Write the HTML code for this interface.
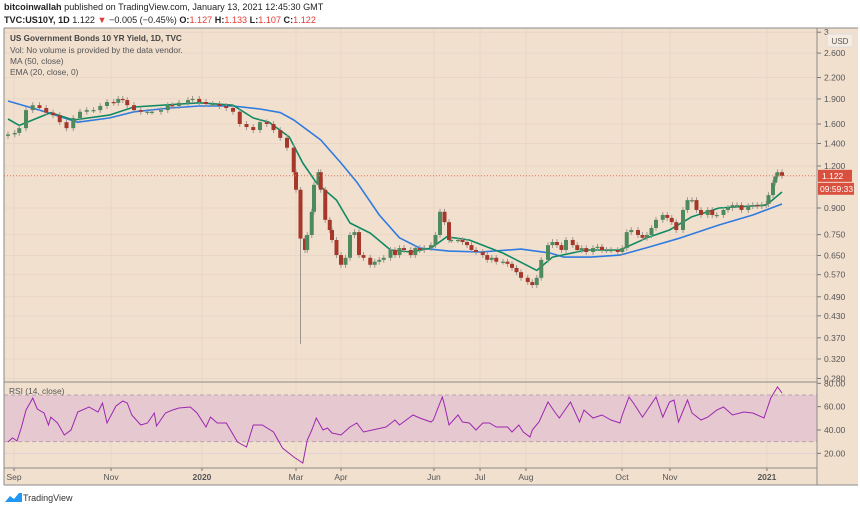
<!DOCTYPE html>
<html><head><meta charset="utf-8">
<style>
body{margin:0;width:860px;height:509px;background:#fff;overflow:hidden;font-family:"Liberation Sans",sans-serif}
svg{position:absolute;left:0;top:0}
</style></head>
<body>
<svg width="860" height="509" viewBox="0 0 860 509">
<rect x="0" y="0" width="860" height="509" fill="#fff"/>
<rect x="4" y="28" width="854" height="457" fill="#f2e0cf"/>
<g id="grid"></g>
<g id="rsiBand"></g>
<g id="lines"></g>
<g id="candles"></g>
<g id="rsi"></g>
<g id="axes"></g>
<text x="4" y="10" font-size="9.1" fill="#222"><tspan font-weight="bold">bitcoinwallah</tspan> published on TradingView.com, January 13, 2021 12:45:30 GMT</text>
<text x="4" y="23" font-size="9.1" fill="#222"><tspan font-weight="bold">TVC:US10Y, 1D</tspan> 1.122 <tspan fill="#e53935">▼</tspan> −0.005 (−0.45%) <tspan font-weight="bold">O:</tspan><tspan fill="#e53935">1.127</tspan> <tspan font-weight="bold">H:</tspan><tspan fill="#e53935">1.133</tspan> <tspan font-weight="bold">L:</tspan><tspan fill="#e53935">1.107</tspan> <tspan font-weight="bold">C:</tspan><tspan fill="#e53935">1.122</tspan></text>
<text x="10" y="41" font-size="8.2" font-weight="bold" fill="#444">US Government Bonds 10 YR Yield, 1D, TVC</text>
<text x="10" y="53" font-size="8.4" fill="#555">Vol: No volume is provided by the data vendor.</text>
<text x="10" y="64" font-size="8.4" fill="#555">MA (50, close)</text>
<text x="10" y="75" font-size="8.4" fill="#555">EMA (20, close, 0)</text>
<text x="9" y="394" font-size="8.4" fill="#555">RSI (14, close)</text>
<rect x="827" y="34" width="26" height="13" rx="2" fill="#f6ebe0" stroke="#ddd"/>
<text x="840" y="44" font-size="8" fill="#555" text-anchor="middle">USD</text>
<g>
<path d="M5 502 l5 -6 l4 3 l5 -6 l3 0 l0 9 z" fill="#2196f3"/>
<text x="23" y="501" font-size="9" fill="#333">TradingView</text>
</g>
</svg>
<script>
const closeDays=[0,3,5,8,11,14,17,20,23,26,29,32,35,38,41,44,47,49,51,53,56,59,62,64,68,71,73,76,80,82,85,88,91,94,97,100,103,106,109,112,115,118,121,124,127,128,130,132,133,135,136,138,139,141,143,144,146,148,150,152,154,156,158,161,163,165,167,170,172,174,176,179,181,183,185,188,190,192,194,196,197,200,202,204,206,208,211,213,215,217,220,222,224,226,228,231,233,235,237,240,242,244,246,248,251,253,255,257,260,262,264,266,268,271,273,275,277,280,282,284,286,288,291,293,295,297,300,302,304,306,308,311,313,315,318,320,322,324,326,329,331,333,335,337,338,340,341,342,344];
const closes=[1.49,1.505,1.555,1.76,1.82,1.785,1.73,1.70,1.62,1.555,1.667,1.74,1.76,1.76,1.81,1.86,1.85,1.90,1.885,1.82,1.76,1.74,1.74,1.74,1.76,1.82,1.81,1.85,1.885,1.90,1.86,1.835,1.835,1.81,1.785,1.74,1.60,1.567,1.535,1.62,1.60,1.535,1.455,1.36,1.15,1.02,0.73,0.675,0.748,0.877,1.055,1.15,1.02,0.83,0.774,0.723,0.652,0.61,0.64,0.748,0.763,0.652,0.64,0.61,0.623,0.631,0.64,0.675,0.652,0.684,0.675,0.652,0.684,0.675,0.684,0.698,0.748,0.877,0.817,0.723,0.723,0.723,0.713,0.698,0.675,0.666,0.652,0.631,0.64,0.623,0.623,0.614,0.597,0.58,0.558,0.542,0.531,0.558,0.631,0.698,0.713,0.698,0.675,0.723,0.698,0.675,0.684,0.666,0.684,0.69,0.675,0.675,0.675,0.666,0.684,0.763,0.774,0.748,0.734,0.748,0.785,0.83,0.858,0.841,0.817,0.774,0.888,0.95,0.95,0.888,0.858,0.888,0.858,0.858,0.888,0.90,0.918,0.918,0.888,0.912,0.918,0.912,0.918,0.925,0.983,1.07,1.117,1.15,1.122];
const spikeDays=[130];
const spikeLows=[0.355];
const maDays=[0,14,31,45,56,72,85,100,112,121,127,139,148,155,165,174,183,196,210,228,241,247,259,272,285,299,316,331,344];
const maValues=[1.873,1.76,1.62,1.667,1.74,1.785,1.81,1.81,1.773,1.73,1.644,1.434,1.225,1.075,0.858,0.734,0.684,0.670,0.666,0.679,0.661,0.643,0.643,0.652,0.689,0.734,0.801,0.858,0.925];
const emaDays=[0,5,19,29,45,56,85,100,109,116,125,131,137,146,152,161,170,179,188,195,205,220,235,242,257,272,284,294,304,316,337,344];
const emaValues=[1.656,1.585,1.73,1.644,1.70,1.798,1.85,1.82,1.667,1.62,1.464,1.225,1.07,0.95,0.812,0.758,0.675,0.666,0.684,0.739,0.723,0.661,0.587,0.643,0.675,0.675,0.734,0.774,0.848,0.90,0.918,1.004];
const rsiDays=[0,2,4,6,8,11,13,16,18,19,22,25,28,31,36,40,42,44,48,51,53,55,59,62,65,66,70,73,76,81,84,88,90,93,97,102,106,109,113,118,122,127,131,133,135,137,140,142,144,148,152,155,158,164,168,172,174,180,183,188,189,193,194,196,200,202,205,208,211,214,217,222,224,227,229,232,233,236,240,243,245,250,254,256,260,264,268,272,273,276,278,282,288,291,294,296,298,302,304,308,311,315,318,322,327,331,336,339,342,344];
const rsiValues=[29.7,33.2,30.6,42.6,57.1,67.4,58,54.6,44.3,51.1,46,35.7,40,55.4,59.7,55.4,63.1,46,60.6,64.9,63.1,52.9,44.3,46,54.6,43.4,54.6,57.1,58.9,59.7,54.6,42.6,51.1,46,46,29.7,25.4,44.3,44.3,38.3,24.6,16.9,11.7,31.4,40,50.3,40,41.7,37.4,35.7,42.6,46,38.3,40.9,42.6,48.6,44.3,52.9,50.3,46.9,48.6,68.3,61.4,44.3,52.9,46.9,46,40,46,46,42.6,42.6,38.3,44.3,38.3,34,40,46.9,64,55.4,50.3,64,46.9,57.1,50.3,52.9,48.6,46,52.9,68.3,63.1,51.1,68.3,51.1,64,65.7,46.9,65.7,54.6,48.6,51.1,57.1,59.7,52.9,55.4,54.6,50.3,67.4,76.9,71.7];
const priceTicks=[3,2.6,2.2,1.9,1.6,1.4,1.2,0.9,0.75,0.65,0.57,0.49,0.43,0.37,0.32,0.28];
const priceTickLabels=["3","2.600","2.200","1.900","1.600","1.400","1.200","0.900","0.750","0.650","0.570","0.490","0.430","0.370","0.320","0.280"];
const rsiTicks=[80,60,40,20];
const rsiTickLabels=["80.00","60.00","40.00","20.00"];
const monthDays=[2.7,45.8,86.2,128,148,189.3,209.8,230.2,272.9,294.2,337.3];
const monthLabels=["Sep","Nov","2020","Mar","Apr","Jun","Jul","Aug","Oct","Nov","2021"];
const lastPrice=1.122;

const NS="http://www.w3.org/2000/svg";
const xD=d=>8+d*2.25;
const yP=v=>166-Math.log(v/1.2)*146;
const yR=v=>395+(70-v)*1.167;
function mk(p,tag,a){const e=document.createElementNS(NS,tag);for(const k in a)e.setAttribute(k,a[k]);p.appendChild(e);return e;}
const grid=document.getElementById('grid'),axes=document.getElementById('axes'),cg=document.getElementById('candles'),lg=document.getElementById('lines'),rg=document.getElementById('rsi'),bg=document.getElementById('rsiBand');

priceTicks.forEach((t,i)=>{const y=yP(t);
 if(y>30&&y<381){const l=mk(grid,'line',{x1:4,x2:817,y1:y,y2:y,stroke:'#e9d6c6','stroke-width':1});
 
 }
 const tk=mk(axes,'line',{x1:817,x2:821,y1:y,y2:y,stroke:'#777'});
 
 
 const tx=mk(axes,'text',{x:824,y:y+3,'font-size':8.5,fill:'#555'});tx.textContent=priceTickLabels[i];
 
 });
rsiTicks.forEach((t,i)=>{const y=yR(t);
 if(t<80){const l=mk(grid,'line',{x1:4,x2:817,y1:y,y2:y,stroke:'#e3d0d8'});
 
 }
 const tx=mk(axes,'text',{x:824,y:y+3,'font-size':8.5,fill:'#555'});tx.textContent=rsiTickLabels[i];
 
 
 mk(axes,'line',{x1:817,x2:821,y1:y,y2:y,stroke:'#777'});});
monthDays.forEach((d,i)=>{const x=xD(d);
 const l=mk(grid,'line',{x1:x,x2:x,y1:28,y2:468,stroke:'#e9d6c6'});
 
 
 mk(axes,'line',{x1:x,x2:x,y1:468,y2:471,stroke:'#777'});
 const tx=mk(axes,'text',{x:x,y:480,'font-size':8.5,fill:'#555','text-anchor':'middle','font-weight':monthLabels[i].length==4?'bold':'normal'});tx.textContent=monthLabels[i];
 
 });
const band=mk(bg,'rect',{x:4,y:yR(70),width:813,height:yR(30)-yR(70),fill:'#e6c8d0'});


[70,30].forEach(v=>{mk(bg,'line',{x1:4,x2:817,y1:yR(v),y2:yR(v),stroke:'#b8a2aa','stroke-dasharray':'4,3'});});
[[4,382,817,382],[4,468,817,468],[4,485,858,485],[817,28,817,485],[4,28,4,485],[4,28,858,28]].forEach(a=>{mk(axes,'line',{x1:a[0],y1:a[1],x2:a[2],y2:a[3],stroke:'#8a8a8a'});});
function poly(days,vals,color){const pts=days.map((d,i)=>xD(d).toFixed(1)+','+yP(vals[i]).toFixed(1)).join(' ');
 return mk(lg,'polyline',{points:pts,fill:'none',stroke:color,'stroke-width':1.6,'stroke-linejoin':'round'});}
const ma=poly(maDays,maValues,'#2f7be0');


const ema=poly(emaDays,emaValues,'#0f8a63');


closes.forEach((c,i)=>{const o=i?closes[i-1]:c*0.99;const d=closeDays[i];const x=xD(d);
 let hi=Math.max(o,c)*1.02,lo=Math.min(o,c)*0.98;
 spikeDays.forEach((sd,j)=>{if(sd===d)lo=Math.min(lo,spikeLows[j]);});
 const up=c>=o;const col=up?'#4f8a5e':'#a5382a';
 mk(cg,'line',{x1:x,x2:x,y1:yP(hi),y2:yP(lo),stroke:'#9d9590','stroke-width':1});
 const top=yP(Math.max(o,c)),bot=yP(Math.min(o,c));
 const r=mk(cg,'rect',{x:x-2,y:top,width:4,height:Math.max(1.2,bot-top),fill:col});
 
 });
const rp=mk(rg,'polyline',{points:rsiDays.map((d,i)=>xD(d).toFixed(1)+','+yR(rsiValues[i]).toFixed(1)).join(' '),fill:'none',stroke:'#9c27b0','stroke-width':1});


const ly=yP(lastPrice);
const pl=mk(axes,'line',{x1:4,x2:817,y1:ly,y2:ly,stroke:'#e0704f','stroke-dasharray':'1,2'});


const lb=mk(axes,'rect',{x:818,y:ly-6,width:34,height:12,fill:'#d9503f'});


const lt=mk(axes,'text',{x:822,y:ly+3,'font-size':8.5,fill:'#fff'});lt.textContent=lastPrice.toFixed(3);
const cb=mk(axes,'rect',{x:818,y:ly+7,width:36,height:12,fill:'#d9503f'});


const ct=mk(axes,'text',{x:820,y:ly+16,'font-size':8.5,fill:'#fff'});ct.textContent='09:59:33';
</script>
</body></html>
